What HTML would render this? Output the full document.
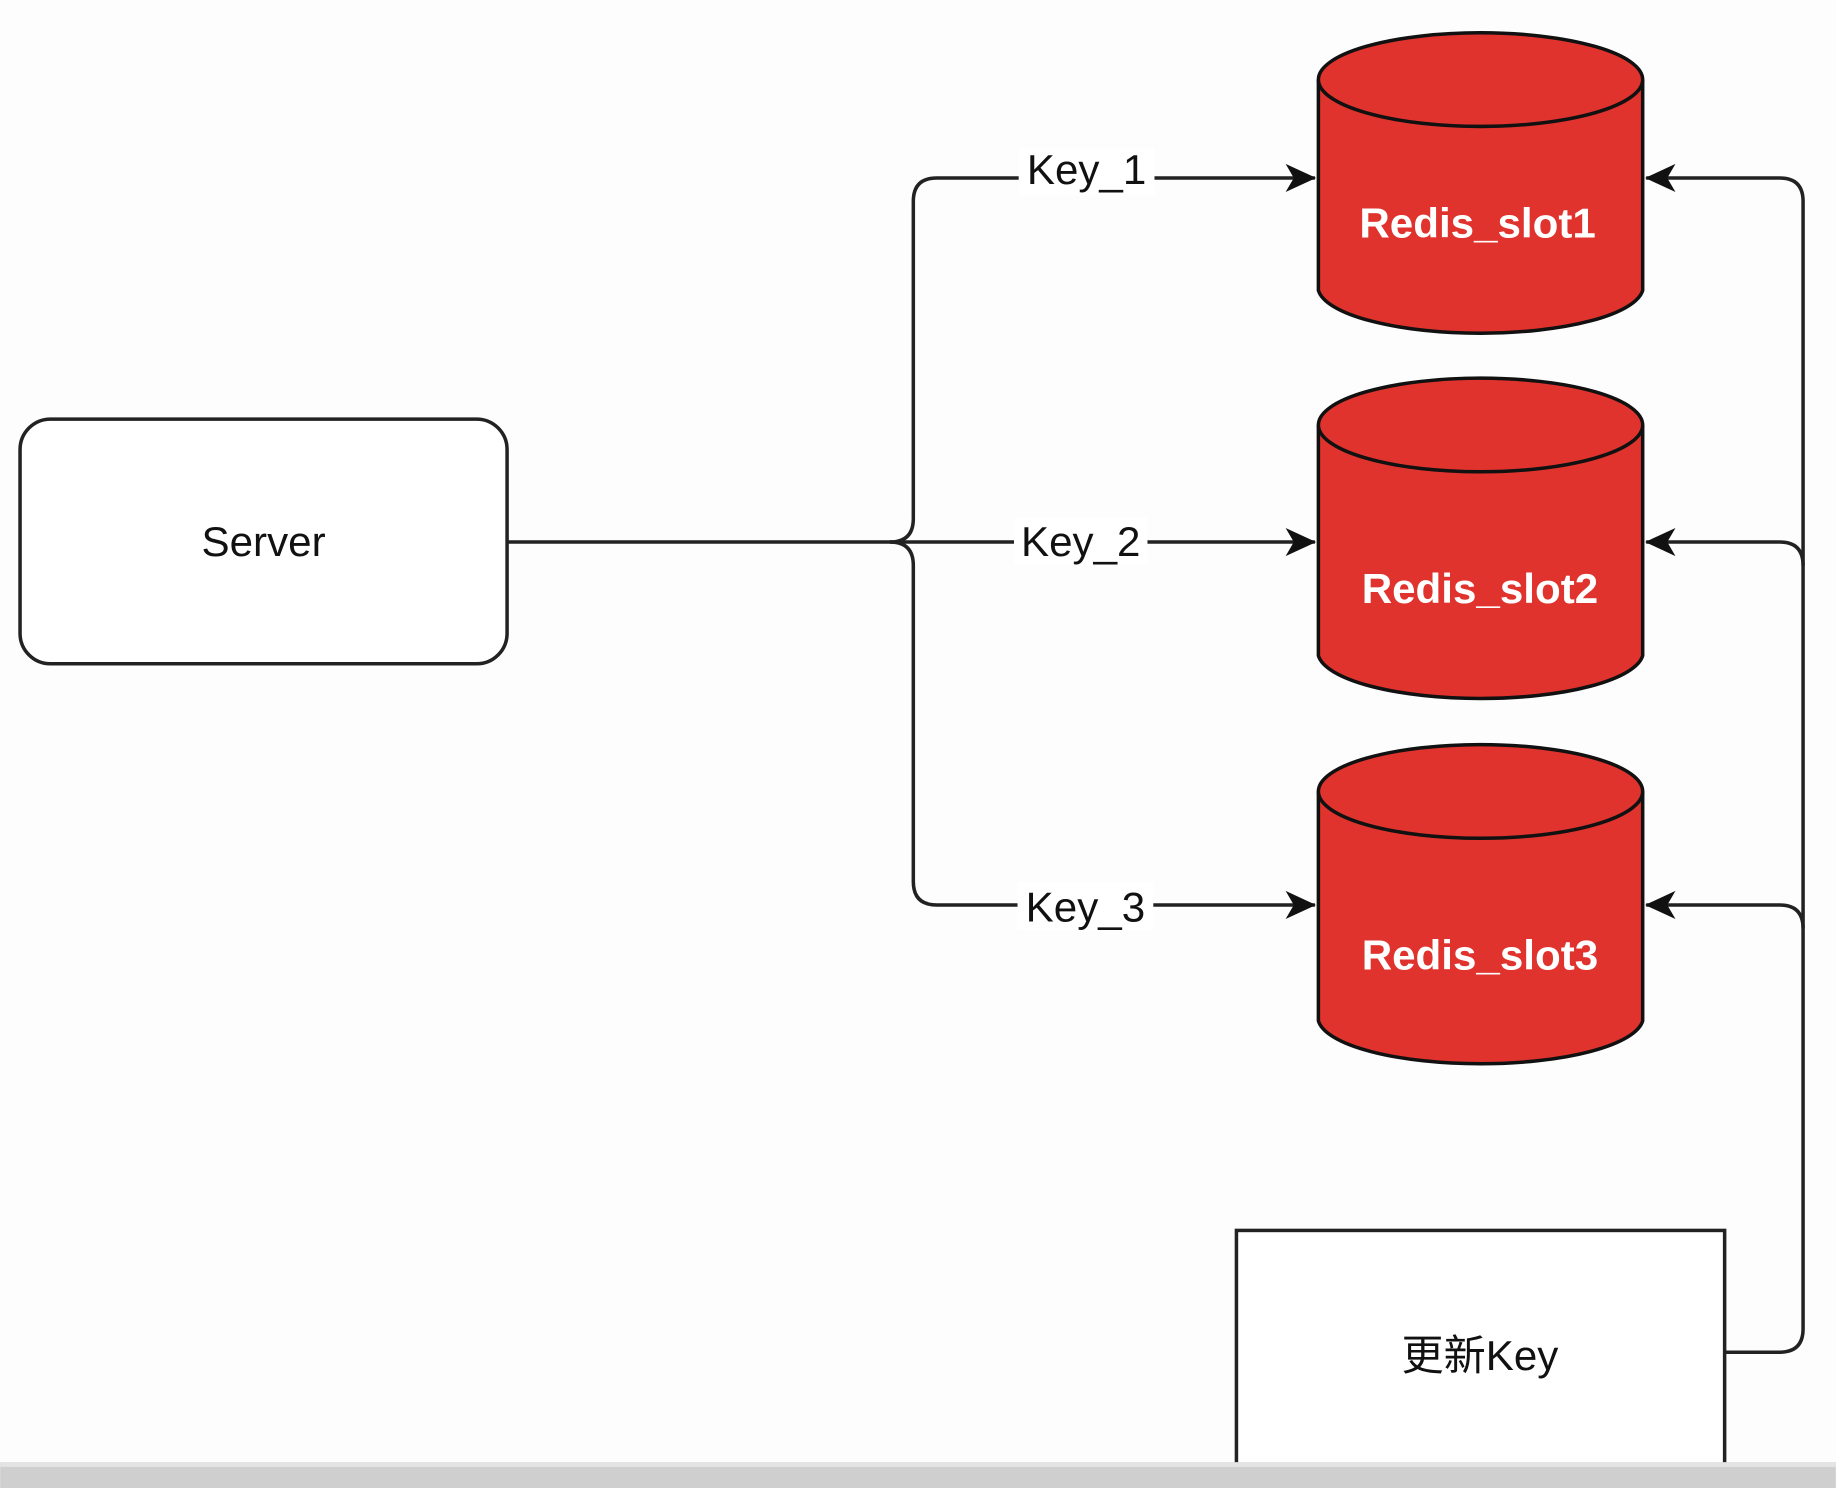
<!DOCTYPE html>
<html><head><meta charset="utf-8"><style>html,body{margin:0;padding:0;background:#fff}svg{display:block}</style></head>
<body>
<svg width="1836" height="1488" viewBox="0 0 1568 1271" xmlns="http://www.w3.org/2000/svg">
<defs>
<marker id="ar" markerWidth="26" markerHeight="26" refX="25" refY="13" orient="auto" markerUnits="userSpaceOnUse" viewBox="0 0 26 26">
<path d="M0,1 L26,13 L0,25 L7,13 Z" fill="#111"/>
</marker>
</defs>
<rect width="1568" height="1271" fill="#fdfdfd"/>
<g fill="none" stroke="#222" stroke-width="3">
<rect x="17" y="358" width="416" height="209" rx="26" fill="#fff"/>
<path d="M433,463 L760,463 Q780,463 780,443 L780,172 Q780,152 800,152 L1123,152" marker-end="url(#ar)"/>
<path d="M760,463 L1123,463" marker-end="url(#ar)"/>
<path d="M760,463 Q780,463 780,483 L780,753 Q780,773 800,773 L1123,773" marker-end="url(#ar)"/>
<path d="M1473,1155 L1520,1155 Q1540,1155 1540,1135 L1540,172 Q1540,152 1520,152 L1406,152" marker-end="url(#ar)"/>
<path d="M1540,483 Q1540,463 1520,463 L1406,463" marker-end="url(#ar)"/>
<path d="M1540,793 Q1540,773 1520,773 L1406,773" marker-end="url(#ar)"/>
<rect x="1056" y="1051" width="417" height="209" fill="#fff"/>
</g>
<g stroke="#111" stroke-width="3" fill="#e0332d">
<path d="M1126,68 L1126,248 A139,40 0 0 0 1403,248 L1403,68"/>
<ellipse cx="1264.5" cy="68" rx="138.5" ry="40"/>
<path d="M1126,363 L1126,560 A139,40 0 0 0 1403,560 L1403,363"/>
<ellipse cx="1264.5" cy="363" rx="138.5" ry="40"/>
<path d="M1126,676 L1126,872 A139,40 0 0 0 1403,872 L1403,676"/>
<ellipse cx="1264.5" cy="676" rx="138.5" ry="40"/>
</g>
<g font-family="Liberation Sans, sans-serif" font-size="36" fill="#111" text-anchor="middle">
<text x="225" y="475">Server</text>
<rect x="870" y="127" width="116" height="40" fill="#fff"/>
<text x="928" y="157">Key_1</text>
<rect x="866" y="442" width="114" height="40" fill="#fff"/>
<text x="923" y="475">Key_2</text>
<rect x="869" y="754" width="116" height="40" fill="#fff"/>
<text x="927" y="787">Key_3</text>
<text x="1264" y="1170" font-family="Liberation Sans, Noto Sans CJK SC, sans-serif">更新Key</text>
</g>
<g font-family="Liberation Sans, sans-serif" font-size="36" font-weight="bold" fill="#fff" text-anchor="middle">
<text x="1262" y="203">Redis_slot1</text>
<text x="1264" y="515">Redis_slot2</text>
<text x="1264" y="828">Redis_slot3</text>
</g>
<rect x="0" y="1249" width="1568" height="22" fill="#cfcfcf"/>
<rect x="0" y="1249" width="1568" height="4" fill="#e4e4e4"/>
</svg>
</body></html>
